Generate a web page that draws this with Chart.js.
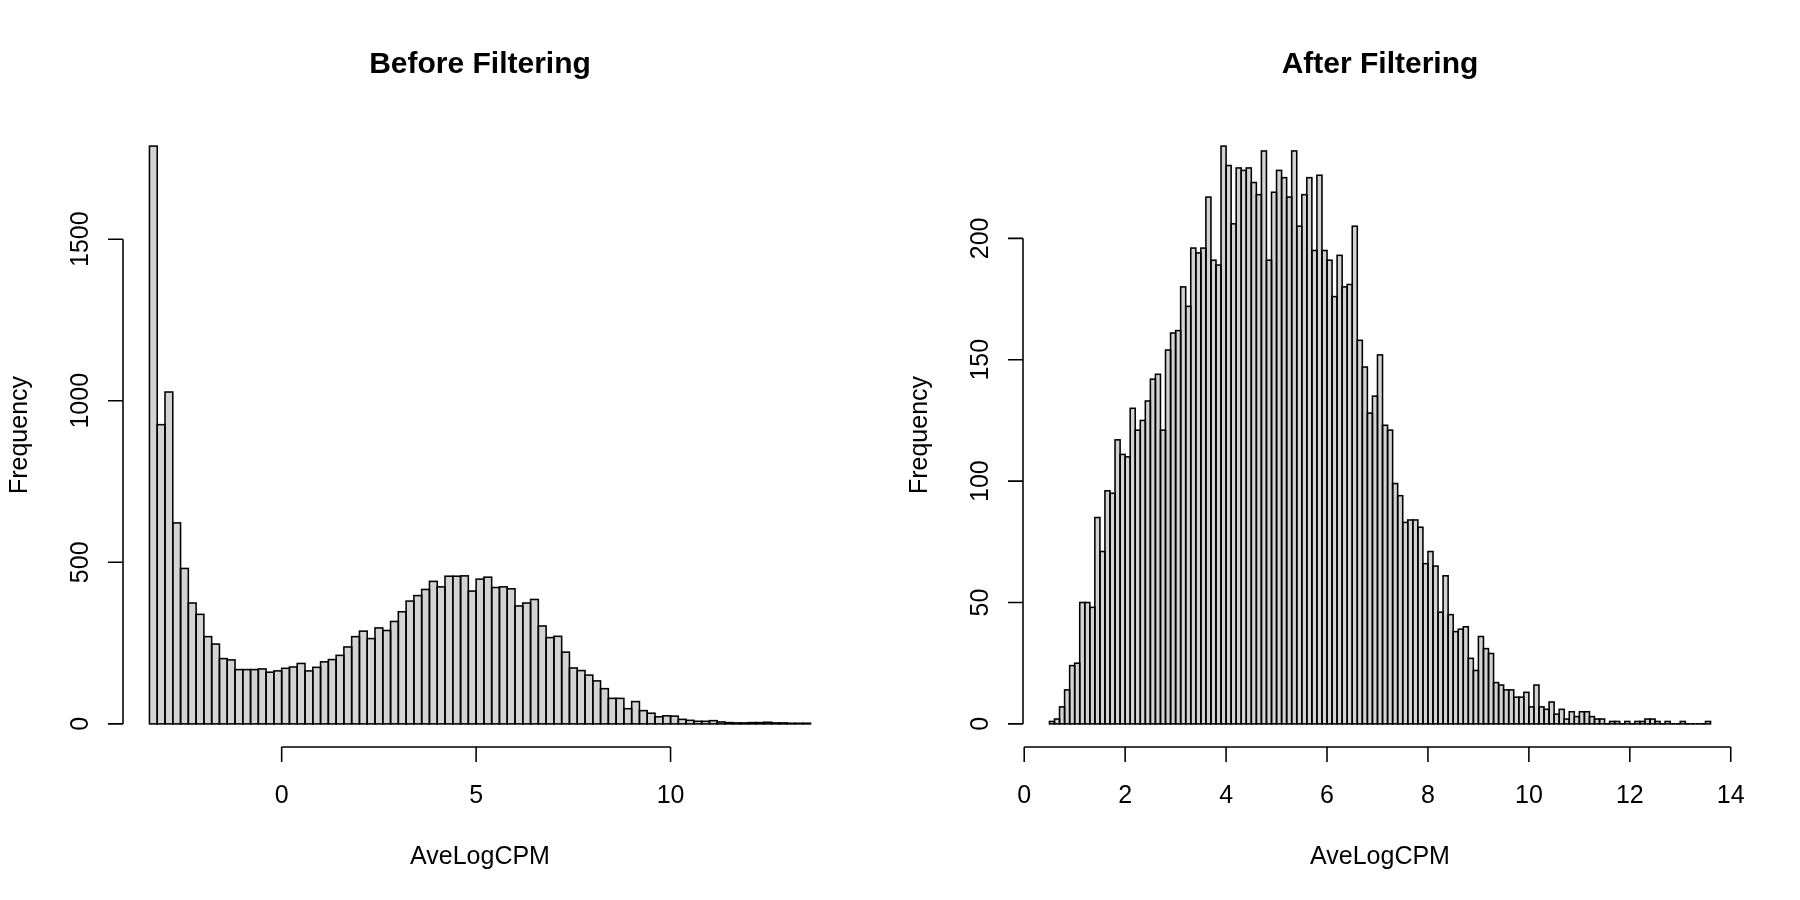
<!DOCTYPE html>
<html><head><meta charset="utf-8">
<script src="https://cdn.jsdelivr.net/npm/chart.js@4.4.1/dist/chart.umd.min.js"></script>
<style>
html,body{margin:0;padding:0;background:#fff;}
#wrap{position:relative;width:1800px;height:900px;background:#fff;}
.panel{position:absolute;top:0;width:900px;height:900px;}
</style></head><body>
<div id="wrap">
<div class="panel" style="left:0"><canvas id="c1" width="900" height="900"></canvas></div>
<div class="panel" style="left:900px"><canvas id="c2" width="900" height="900"></canvas></div>
</div>
<script>
// ---- data ----
const beforeTitle = "Before Filtering";
const afterTitle = "After Filtering";
const xAxisLabel = "AveLogCPM";
const yAxisLabel = "Frequency";

// histogram breaks: first edge, bin width
const beforeFirstBreak = -3.4, beforeBinWidth = 0.2;
const beforeCounts = [1788,926,1027,622,481,374,339,270,247,202,198,168,168,168,170,160,164,172,176,187,
  164,175,192,199,212,238,270,287,264,297,289,317,347,380,397,416,441,424,457,457,
  458,411,448,454,422,424,418,365,374,385,303,267,271,222,173,165,151,133,109,79,
  79,47,69,41,33,22,25,24,14,11,8,8,10,6,4,3,3,4,4,5,3,3,2,2,2];

const afterFirstBreak = 0.5, afterBinWidth = 0.1;
const afterCounts = [1,2,7,14,24,25,50,50,48,85,71,96,95,117,111,110,130,121,125,133,
  142,144,121,154,161,162,180,172,196,194,196,217,191,189,238,230,206,229,228,229,
  223,218,236,191,219,228,225,217,236,205,218,225,195,226,195,191,176,193,180,181,
  205,158,147,128,135,152,123,121,99,94,83,84,84,81,66,71,65,46,61,45,
  38,39,40,27,22,36,31,29,17,16,14,14,11,11,13,7,16,7,6,9,
  4,6,2,5,3,5,5,3,2,2,0,1,1,0,1,0,1,1,2,2,
  1,0,1,0,0,1,0,0,0,0,1];

const beforeXTicks = [0, 5, 10];
const beforeYTicks = [0, 500, 1000, 1500];
const afterXTicks = [0, 2, 4, 6, 8, 10, 12, 14];
const afterYTicks = [0, 50, 100, 150, 200];

// ---- helpers ----
const FONT = '"Liberation Sans", Arial, Helvetica, sans-serif';
const LW = 1.55;

function binPoints(first, width, counts){
  return counts.map((c,i)=>({x: Math.round((first + (i+0.5)*width)*10000)/10000, y: c}));
}

const rStyle = {
  id: 'rStyle',
  afterDatasetsDraw(chart, args, opts){
    const ctx = chart.ctx, xs = chart.scales.x, ys = chart.scales.y, ca = chart.chartArea;
    ctx.save();
    ctx.strokeStyle = '#000';
    ctx.fillStyle = '#000';
    ctx.lineWidth = LW;
    // bar outlines (R hist draws all four sides)
    const meta = chart.getDatasetMeta(0);
    meta.data.forEach(b=>{
      const p = b.getProps(['x','y','base','width'], true);
      ctx.strokeRect(p.x - p.width/2, p.y, p.width, p.base - p.y);
    });
    // x axis
    const xt = opts.xTicks, yt = opts.yTicks;
    const yAx = ca.bottom;
    ctx.beginPath();
    ctx.moveTo(xs.getPixelForValue(xt[0]), yAx);
    ctx.lineTo(xs.getPixelForValue(xt[xt.length-1]), yAx);
    xt.forEach(v=>{ const px = xs.getPixelForValue(v); ctx.moveTo(px, yAx); ctx.lineTo(px, yAx+15); });
    ctx.stroke();
    ctx.font = '25px ' + FONT;
    ctx.textAlign = 'center'; ctx.textBaseline = 'alphabetic';
    xt.forEach(v=>{ ctx.fillText(String(v), xs.getPixelForValue(v), yAx + 56); });
    // y axis
    const xAx = ca.left;
    ctx.beginPath();
    ctx.moveTo(xAx, ys.getPixelForValue(yt[0]));
    ctx.lineTo(xAx, ys.getPixelForValue(yt[yt.length-1]));
    yt.forEach(v=>{ const py = ys.getPixelForValue(v); ctx.moveTo(xAx, py); ctx.lineTo(xAx-15, py); });
    ctx.stroke();
    yt.forEach(v=>{
      ctx.save();
      ctx.translate(xAx - 35, ys.getPixelForValue(v));
      ctx.rotate(-Math.PI/2);
      ctx.fillText(String(v), 0, 0);
      ctx.restore();
    });
    // axis titles
    const cx = (ca.left + ca.right)/2, cy = (ca.top + ca.bottom)/2;
    ctx.fillText(opts.xLabel, cx, yAx + 117);
    ctx.save();
    ctx.translate(xAx - 96, cy);
    ctx.rotate(-Math.PI/2);
    ctx.fillText(opts.yLabel, 0, 0);
    ctx.restore();
    // main title
    ctx.font = 'bold 30px ' + FONT;
    ctx.fillText(opts.title, cx, 73);
    ctx.restore();
  }
};

function makeHist(canvasId, first, width, counts, title, xTicks, yTicks){
  const n = counts.length;
  const lo = first, hi = first + n*width;
  const xr = hi - lo;
  const ymax = Math.max(...counts);
  return new Chart(document.getElementById(canvasId), {
    type: 'bar',
    data: { datasets: [{
      data: binPoints(first, width, counts),
      backgroundColor: '#d3d3d3',
      borderWidth: 0,
      barPercentage: 1,
      categoryPercentage: 1
    }]},
    options: {
      responsive: false,
      animation: false,
      devicePixelRatio: 1,
      layout: { padding: { left: 123, right: 63, top: 123, bottom: 153 } },
      plugins: {
        legend: { display: false },
        tooltip: { enabled: false },
        rStyle: { xTicks, yTicks, title, xLabel: xAxisLabel, yLabel: yAxisLabel }
      },
      scales: {
        x: { type: 'linear', display: false, offset: false, min: lo - 0.04*xr, max: hi + 0.04*xr },
        y: { type: 'linear', display: false, min: -0.04*ymax, max: 1.04*ymax }
      }
    },
    plugins: [rStyle]
  });
}

makeHist('c1', beforeFirstBreak, beforeBinWidth, beforeCounts, beforeTitle, beforeXTicks, beforeYTicks);
makeHist('c2', afterFirstBreak, afterBinWidth, afterCounts, afterTitle, afterXTicks, afterYTicks);
</script>
</body></html>
